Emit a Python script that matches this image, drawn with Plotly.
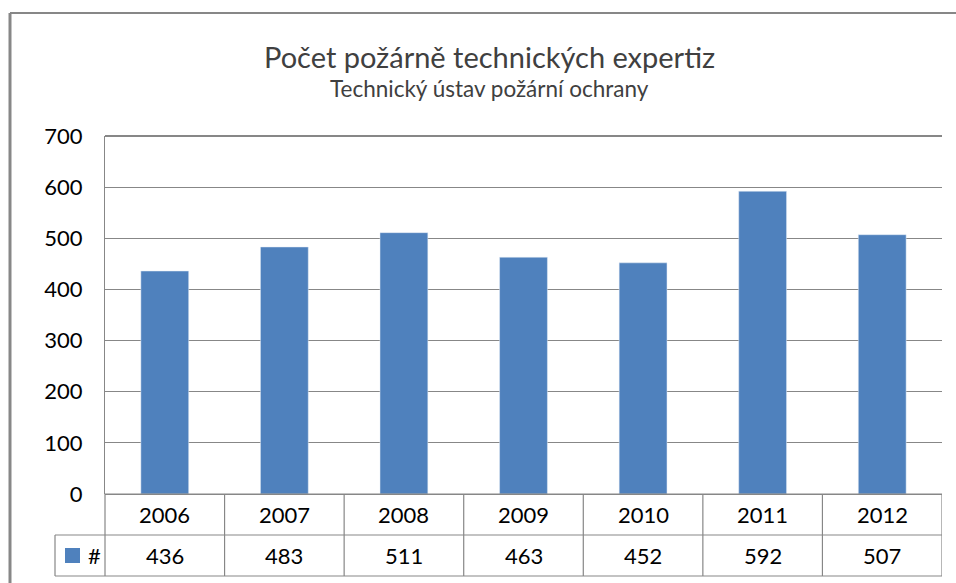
import plotly.graph_objects as go

years = ["2006", "2007", "2008", "2009", "2010", "2011", "2012"]
counts = [436, 483, 511, 463, 452, 592, 507]
series_name = "#"
title_text = "Počet požárně technických expertiz"
subtitle_text = "Technický ústav požární ochrany"
y_ticks = [0, 100, 200, 300, 400, 500, 600, 700]

W, H = 956, 583
L, R, T, B = 105, 942, 136, 494  # plot area in pixels
BAR = "#4F81BD"
GRID = "#878787"
FONT = "Lato"

def px(xp):
    return (xp - L) / (R - L)

def py(yp):
    return (B - yp) / (B - T)

fig = go.Figure()
fig.add_trace(go.Bar(x=years, y=counts, marker_color=BAR, width=0.4, name=series_name))

shapes = []
def line(x0, y0, x1, y1, w=1.2, c=GRID, xref="paper"):
    shapes.append(dict(type="line", xref=xref, yref="paper", x0=x0, y0=y0, x1=x1, y1=y1,
                       line=dict(color=c, width=w), layer="above"))

# outer chart frame
line(px(10), py(13), px(10), py(590), w=3)
line(px(10), py(13), px(960), py(13), w=2)
# top border of plot
line(0, 1, 1, 1, w=2.2)
# data table horizontal lines
row1, row2, row3 = py(494), py(535), py(576)
line(0, row1, 1, row1)
line(px(55), row2, 1, row2)
line(px(55), row3, 1, row3)
# vertical table lines
line(0, row1, 0, row3)
line(px(55), row2, px(55), row3)
for i in range(len(years)):
    line(i + 0.5, row1, i + 0.5, row3, xref="x")
# legend key square
shapes.append(dict(type="rect", xref="paper", yref="paper", x0=px(65), x1=px(80),
                   y0=py(563), y1=py(548), fillcolor=BAR, line=dict(width=0)))

ann = []
for i, (yr, v) in enumerate(zip(years, counts)):
    ann.append(dict(x=i, xref="x", y=(row1 + row2) / 2, yref="paper", text=yr, showarrow=False,
                    font=dict(family=FONT, size=22, color="#000000"), yanchor="middle"))
    ann.append(dict(x=i, xref="x", y=(row2 + row3) / 2, yref="paper", text=str(v), showarrow=False,
                    font=dict(family=FONT, size=22, color="#000000"), yanchor="middle"))
ann.append(dict(x=px(86), xref="paper", y=(row2 + row3) / 2, yref="paper", text=series_name,
                showarrow=False, xanchor="left", yanchor="middle",
                font=dict(family=FONT, size=22, color="#000000")))
ann.append(dict(x=px(489), xref="paper", y=py(56), yref="paper", text=title_text, showarrow=False,
                xanchor="center", yanchor="middle", font=dict(family=FONT, size=29, color="#404040")))
ann.append(dict(x=px(489), xref="paper", y=py(89), yref="paper", text=subtitle_text, showarrow=False,
                xanchor="center", yanchor="middle", font=dict(family=FONT, size=22.5, color="#404040")))

fig.update_layout(
    width=W, height=H,
    margin=dict(l=L, r=W - R, t=T, b=H - B, pad=0),
    paper_bgcolor="white", plot_bgcolor="white",
    showlegend=False,
    shapes=shapes, annotations=ann,
    xaxis=dict(type="category", showticklabels=False, showgrid=False, zeroline=False, showline=False,
               range=[-0.5, len(years) - 0.5], fixedrange=True),
    yaxis=dict(range=[0, 700], tickvals=y_ticks, showgrid=True, gridcolor=GRID, gridwidth=1.2,
               zeroline=True, zerolinecolor=GRID, zerolinewidth=1.2,
               showline=True, linecolor=GRID, linewidth=1.2,
               ticks="", ticklabelstandoff=17, automargin=False,
               tickfont=dict(family=FONT, size=22, color="#000000")),
)

fig.write_html("out.html", config={"displayModeBar": False},
               post_script="document.body.style.margin='0';document.body.style.overflow='hidden';")
